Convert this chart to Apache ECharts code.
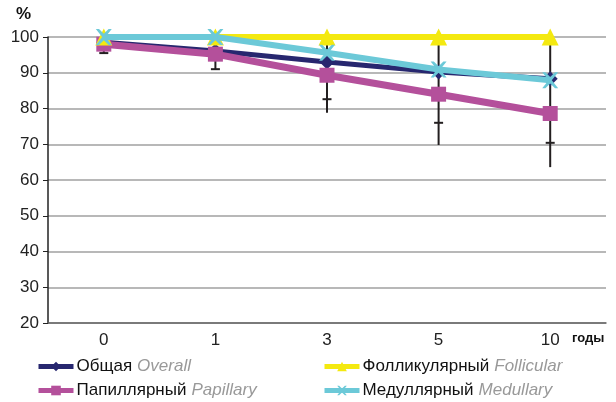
<!DOCTYPE html>
<html><head><meta charset="utf-8">
<script src="https://cdn.jsdelivr.net/npm/echarts@6/dist/echarts.min.js"></script>
<style>html,body{margin:0;padding:0;background:#fff}#c{width:616px;height:402px}</style>
</head><body><div id="c"></div>
<script>
const categories = ['0','1','3','5','10'];
const overall    = [98.5, 96.1, 93.0, 90.2, 88.3];
const follicular = [100, 100, 100, 100, 100];
const papillary  = [98.0, 95.2, 89.3, 84.0, 78.6];
const medullary  = [100, 100, 95.6, 90.9, 87.9];
const errHigh = [99.5, 99.5, 100, 100, 100];
const errLow  = [95.5, 91.0, 78.8, 69.8, 63.6];
const errTick = [95.5, 91.0, 82.6, 76.0, 70.4];
const namesRu = ['Общая', 'Фолликулярный', 'Папиллярный', 'Медуллярный'];
const namesEn = ['Overall', 'Follicular', 'Papillary', 'Medullary'];
const yTicks = [20, 30, 40, 50, 60, 70, 80, 90, 100];

const colors = ['#27276f', '#f4e910', '#b4509b', '#6cc9d8'];
const xPath = 'path://M0,0 L2,0 L5,3 L8,0 L10,0 L6,5 L10,10 L8,10 L5,7 L2,10 L0,10 L4,5 Z';

const chart = echarts.init(document.getElementById('c'));
const errData = categories.map((c, i) => [i, errHigh[i], errLow[i], errTick[i]]);

function lineSeries(idx, data, symbol, size, width, z) {
  return {
    name: namesRu[idx], type: 'line', data: data, symbol: symbol, symbolSize: size,
    lineStyle: { color: colors[idx], width: width },
    itemStyle: { color: colors[idx] }, z: z, animation: false
  };
}

const legendPos = [[36, 358], [322, 358], [36, 382], [322, 382]];
const legends = namesRu.map((n, i) => ({
  left: legendPos[i][0], top: legendPos[i][1], padding: 0, itemWidth: 35, itemHeight: 12, itemGap: 4,
  lineStyle: { width: 5 },
  data: [n],
  formatter: function (name) { const k = namesRu.indexOf(name); return '{a|' + name + '}{b|' + namesEn[k] + '}'; },
  textStyle: { padding: [0, 0, 0, -2], rich: {
    a: { fontSize: 17, color: '#111', fontFamily: 'Liberation Sans', padding: [0, 5, 0, 0] },
    b: { fontSize: 17, color: '#999', fontStyle: 'italic', fontFamily: 'Liberation Sans' }
  } }
}));

chart.setOption({
  animation: false,
  grid: { left: 48, right: 10, top: 37, bottom: 79 },
  xAxis: {
    type: 'category', data: categories, boundaryGap: true,
    axisLine: { lineStyle: { color: '#666', width: 1.5 } },
    axisTick: { inside: true, length: 4, lineStyle: { color: '#666' } },
    axisLabel: { color: '#222', fontSize: 17, fontFamily: 'Liberation Sans', margin: 9 }
  },
  yAxis: {
    type: 'value', min: yTicks[0], max: yTicks[yTicks.length - 1], interval: 10,
    axisLine: { show: true, lineStyle: { color: '#222', width: 1.5 } },
    axisTick: { show: true, length: 5, lineStyle: { color: '#222' } },
    axisLabel: { color: '#222', fontSize: 17, fontFamily: 'Liberation Sans', margin: 9 },
    splitLine: { lineStyle: { color: '#a0a0a0', width: 1.5 } }
  },
  legend: legends,
  graphic: [
    { type: 'text', left: 16, top: 6, style: { text: '%', font: 'bold 17px "Liberation Sans"', fill: '#111' } },
    { type: 'text', left: 572, top: 332, style: { text: 'годы', font: 'bold 13px "Liberation Sans"', fill: '#111' } }
  ],
  series: [
    {
      type: 'custom', z: 1, data: errData, silent: true,
      renderItem: function (params, api) {
        const top = api.coord([api.value(0), api.value(1)]);
        const bot = api.coord([api.value(0), api.value(2)]);
        const tk = api.coord([api.value(0), api.value(3)]);
        const st = { stroke: '#231f20', lineWidth: 2 };
        return { type: 'group', children: [
          { type: 'line', shape: { x1: top[0], y1: top[1], x2: bot[0], y2: bot[1] }, style: st },
          { type: 'line', shape: { x1: tk[0] - 4.5, y1: tk[1], x2: tk[0] + 4.5, y2: tk[1] }, style: st }
        ] };
      }
    },
    lineSeries(0, overall, 'diamond', 15, 5, 3),
    lineSeries(2, papillary, 'rect', 15, 7, 4),
    lineSeries(1, follicular, 'triangle', 17, 6, 5),
    lineSeries(3, medullary, xPath, 16, 6, 6)
  ]
});
</script></body></html>
